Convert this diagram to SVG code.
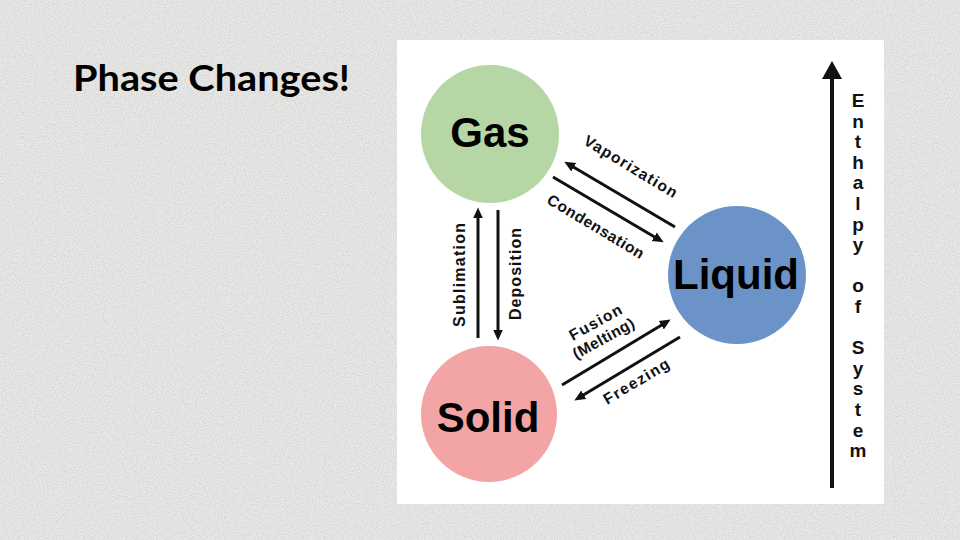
<svg xmlns="http://www.w3.org/2000/svg" width="960" height="540" viewBox="0 0 960 540">
  <style>
    .node-label { font-family: "Liberation Sans", Arial, sans-serif; font-weight: bold; font-size: 42px; fill: #000; text-anchor: middle; }
    .edge-label { font-family: "Liberation Sans", Arial, sans-serif; font-weight: bold; font-size: 15.5px; fill: #111; text-anchor: middle; }
    .vert-label { font-family: "Liberation Sans", Arial, sans-serif; font-weight: bold; font-size: 16px; fill: #111; text-anchor: middle; }
    .axis-letter { font-family: "Liberation Sans", Arial, sans-serif; font-weight: bold; font-size: 19px; fill: #111; text-anchor: middle; }
    .conn { stroke: #111; stroke-width: 3; fill: none; marker-end: url(#arrow); }
  </style>
  <defs>
    <marker id="arrow" viewBox="0 0 10 10" refX="4" refY="5" markerWidth="11" markerHeight="11" markerUnits="userSpaceOnUse" orient="auto">
      <path d="M0,0.5 L10,5 L0,9.5 z" fill="#111"/>
    </marker>
    <filter id="noise" x="0" y="0" width="100%" height="100%">
      <feTurbulence type="fractalNoise" baseFrequency="0.9" numOctaves="2" seed="3"/>
      <feColorMatrix type="matrix" values="0 0 0 0 0.5  0 0 0 0 0.5  0 0 0 0 0.5  0 0 0 1.5 -0.55"/>
    </filter>
  </defs>

  <!-- background -->
  <rect x="0" y="0" width="960" height="540" fill="#e9e9e7"/>
  <rect x="0" y="0" width="960" height="540" filter="url(#noise)" opacity="0.7"/>

  <!-- title -->
  <text x="73" y="91" font-family="Lato, 'Open Sans', sans-serif" font-weight="bold" font-size="36" fill="#000" textLength="277" lengthAdjust="spacingAndGlyphs">Phase Changes!</text>

  <!-- white panel -->
  <rect x="397" y="40" width="487" height="464" fill="#ffffff"/>

  <!-- nodes -->
  <g id="gas">
    <circle cx="490" cy="134" r="69" fill="#b6d6a6"/>
    <text class="node-label" x="490" y="147">Gas</text>
  </g>
  <g id="liquid">
    <circle cx="737" cy="275" r="69" fill="#6b93c7"/>
    <text class="node-label" x="736" y="289">Liquid</text>
  </g>
  <g id="solid">
    <circle cx="489" cy="414" r="68" fill="#f3a5a5"/>
    <text class="node-label" x="488" y="432">Solid</text>
  </g>

  <!-- connectors -->
  <g id="connectors">
    <line class="conn" x1="675" y1="227" x2="570" y2="165"/>
    <line class="conn" x1="553" y1="177" x2="658" y2="239"/>
    <line class="conn" x1="562" y1="385" x2="665" y2="323"/>
    <line class="conn" x1="680" y1="337" x2="580" y2="397"/>
    <line class="conn" x1="478" y1="338" x2="478" y2="214"/>
    <line class="conn" x1="498" y1="210" x2="498" y2="334"/>
  </g>

  <!-- connector labels -->
  <g id="labels">
    <text class="edge-label" transform="translate(628,171) rotate(31)" textLength="106" lengthAdjust="spacing">Vaporization</text>
    <text class="edge-label" transform="translate(593,231) rotate(31)" textLength="110" lengthAdjust="spacing">Condensation</text>
    <text class="edge-label" transform="translate(598,327) rotate(-29)" textLength="58" lengthAdjust="spacing">Fusion</text>
    <text class="edge-label" transform="translate(606,343) rotate(-29)" textLength="68" lengthAdjust="spacing">(Melting)</text>
    <text class="edge-label" transform="translate(639,386) rotate(-31)" textLength="74" lengthAdjust="spacing">Freezing</text>
    <text class="vert-label" transform="translate(465,275) rotate(-90)" textLength="104" lengthAdjust="spacing">Sublimation</text>
    <text class="vert-label" transform="translate(521,274) rotate(-90)" textLength="92" lengthAdjust="spacing">Deposition</text>
  </g>

  <!-- enthalpy axis -->
  <g id="enthalpy-axis">
    <line x1="832" y1="76" x2="832" y2="488" stroke="#111" stroke-width="4"/>
    <path d="M832,61 L822,79 L842,79 z" fill="#111"/>
    <text class="axis-letter" x="858" y="107">E</text>
    <text class="axis-letter" x="858" y="127.6">n</text>
    <text class="axis-letter" x="858" y="148.2">t</text>
    <text class="axis-letter" x="858" y="168.8">h</text>
    <text class="axis-letter" x="858" y="189.4">a</text>
    <text class="axis-letter" x="858" y="210">l</text>
    <text class="axis-letter" x="858" y="230.6">p</text>
    <text class="axis-letter" x="858" y="251.2">y</text>
    <text class="axis-letter" x="858" y="292.4">o</text>
    <text class="axis-letter" x="858" y="313">f</text>
    <text class="axis-letter" x="858" y="354.2">S</text>
    <text class="axis-letter" x="858" y="374.8">y</text>
    <text class="axis-letter" x="858" y="395.4">s</text>
    <text class="axis-letter" x="858" y="416">t</text>
    <text class="axis-letter" x="858" y="436.6">e</text>
    <text class="axis-letter" x="858" y="457.2">m</text>
  </g>
</svg>
